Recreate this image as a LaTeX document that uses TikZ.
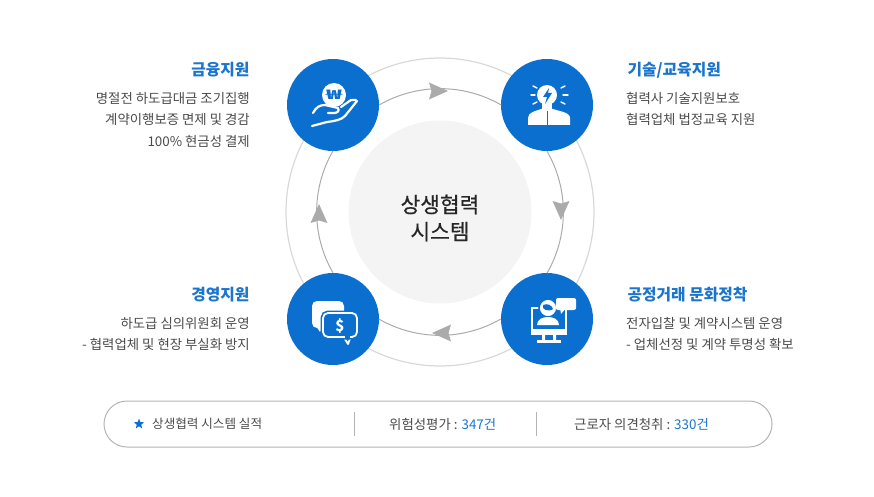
\documentclass[tikz,border=0pt]{standalone}
\usepackage{fontspec}
\usepackage{graphicx}
\setmainfont{Noto Sans CJK KR}
\usetikzlibrary{shapes.geometric}
\definecolor{hubblue}{HTML}{0B6FCF}
\definecolor{titleblue}{HTML}{1C75CC}
\definecolor{bodygray}{HTML}{4A4A4A}
\definecolor{flowgray}{HTML}{ABABAB}
\definecolor{ringgray}{HTML}{D9D9D9}
\definecolor{coregray}{HTML}{F4F4F4}
\definecolor{pillgray}{HTML}{B4B4B4}
\tikzset{
  hub/.style={circle, fill=hubblue, minimum size=92pt, inner sep=0pt},
  title left/.style={anchor=east, font=\fontsize{15.8}{18}\selectfont\bfseries, text=titleblue},
  title right/.style={anchor=west, font=\fontsize{15.8}{18}\selectfont\bfseries, text=titleblue},
  body left/.style={anchor=north east, align=right, inner sep=0pt, font=\fontsize{13.4}{21.6}\selectfont, text=bodygray},
  body right/.style={anchor=north west, align=left, inner sep=0pt, font=\fontsize{13.4}{21.6}\selectfont, text=bodygray},
  pill text/.style={anchor=west, inner sep=0pt, font=\fontsize{12.6}{15}\selectfont, text=bodygray},
  pill value/.style={anchor=west, inner sep=0pt, font=\fontsize{13.4}{15}\selectfont, text=bodygray},
  flow/.style={flowgray, line width=1pt},
  icon line/.style={white, line width=2.2pt, line cap=round, line join=round},
}
\begin{document}
\begin{tikzpicture}[x=1pt, y=1pt]
\useasboundingbox (0,-497) rectangle (874,0);

% rings and centre
\node [circle, draw=ringgray, line width=1.2pt, minimum size=308pt] (ring) at (440,-212) {};
\node [circle, fill=coregray, minimum size=183pt, inner sep=0pt] (core) at (440,-212) {};
\node [align=center, inner sep=0pt, font=\fontsize{21.4}{27}\selectfont\addfontfeature{FakeBold=0.4}, text=black!85] (core-label) at (440,-218) {상생협력\\시스템};

% hubs
\foreach \m/\x/\y in {finance/333/105, tech/547/105, process/547/319, manage/333/319}
  \node [hub] (\m) at (\x,-\y) {};

% flow arcs
\foreach \a/\s in {finance.east/120, tech.south/30, process.west/-60, manage.north/-150}
  \draw [flow] (\a) arc [start angle=\s, delta angle=-60, radius=122];

% arrow heads on the arcs
\foreach \r in {0,-90,-180,-270}
  \fill [flowgray, rotate around={\r:(core.center)}] (448,-91) -- (429,-82.5) -- (431.5,-91) -- (429,-99.5) -- cycle;

% texts left
\node [title left] (finance-title) at (253,-70) {금융지원};
\node [body left] (finance-body) at (250,-92) {명절전 하도급대금 조기집행\\계약이행보증 면제 및 경감\\100\% 현금성 결제};
\node [title left] (manage-title) at (253,-295) {경영지원};
\node [body left] (manage-body) at (250,-317) {하도급 심의위원회 운영\\- 협력업체 및 현장 부실화 방지};

% texts right
\node [title right] (tech-title) at (624,-70) {기술/교육지원};
\node [body right] (tech-body) at (626,-92) {협력사 기술지원보호\\협력업체 법정교육 지원};
\node [title right] (process-title) at (624,-295) {공정거래 문화정착};
\node [body right] (process-body) at (626,-317) {전자입찰 및 계약시스템 운영\\- 업체선정 및 계약 투명성 확보};

% icon: hand and coin
\node [circle, fill=white, minimum size=24pt, inner sep=0pt, text=hubblue,
  font=\fontsize{13}{13}\selectfont\bfseries] (coin) at (334,-95) {\scalebox{2}[1]{₩}};
\draw [icon line] (312,-126) -- (327,-122) .. controls (335,-121) and (341,-120) .. (345,-116) -- (357,-101);
\draw [icon line] (313,-113) .. controls (316,-107) and (320,-105) .. (325,-105)
  -- (338,-108) .. controls (340,-111) and (337,-113) .. (334,-113) -- (328,-113);
\draw [icon line] (341,-107) -- (351,-100) -- (356,-100);

% icon: bulb and person
\fill [white] (528,-125) -- (528,-118) .. controls (528,-112) and (536,-111) .. (541,-109)
  -- (553,-109) .. controls (558,-111) and (570,-112) .. (570,-118) -- (570,-125) -- cycle;
\node [circle, fill=white, minimum size=20pt, inner sep=0pt] (bulb) at (547,-95) {};
\fill [white] (542,-100) rectangle (552,-110);
\fill [hubblue] (549,-88) -- (543,-97) -- (547,-97) -- (545,-104) -- (552,-93) -- (548,-93) -- cycle;
\draw [hubblue, line width=1pt] (547,-111) -- (547,-125);
\foreach \xa/\ya/\xb/\yb in {533/86/537/88, 531/95/535/95, 533/104/537/102, 565/86/561/88, 568/95/563/95, 565/104/561/102}
  \draw [icon line, line width=1.4pt] (\xa,-\ya) -- (\xb,-\yb);

% icon: speech bubbles
\fill [white, rounded corners=5pt] (312,-301) rectangle (344,-328);
\fill [white] (316,-326) -- (320,-332) -- (323,-326) -- cycle;
\draw [white, line width=1.8pt, line join=round, fill=hubblue] (343,-336) -- (348,-344) -- (351,-336) -- cycle;
\draw [white, line width=1.8pt, fill=hubblue, rounded corners=5pt, preaction={draw=hubblue, line width=5pt}]
  (323,-313) rectangle (357,-337);
\fill [hubblue] (344.5,-336) rectangle (350,-338.5);
\node [text=white, inner sep=0pt, font=\fontsize{15}{15}\selectfont\bfseries] (dollar) at (340,-326) {\$};

% icon: monitor and person
\draw [white, line width=2.4pt] (532,-308) rectangle (566,-333);
\fill [white] (531,-329) rectangle (567,-334.5);
\fill [white] (542,-334) rectangle (545,-341) (553,-334) rectangle (556,-341);
\fill [white] (537,-340) rectangle (561,-342.5);
\node [circle, fill=white, draw=hubblue, line width=1.6pt, minimum size=18pt, inner sep=0pt] (head) at (548,-308) {};
\fill [hubblue] (543,-305) .. controls (547,-303) and (552,-305) .. (553,-309)
  .. controls (552,-311) and (545,-311) .. (543,-308) -- cycle;
\fill [white] (537,-325) .. controls (537,-319) and (543,-317) .. (548,-317)
  .. controls (553,-317) and (559,-319) .. (559,-325) -- cycle;
\fill [white, rounded corners=2pt] (556,-298) rectangle (576,-310);
\fill [white] (560,-308) -- (561,-314) -- (566,-308) -- cycle;

% bottom bar
\node [draw=pillgray, line width=1pt, rounded corners=23pt, minimum width=668pt, minimum height=46pt, inner sep=0pt] (bar) at (438,-424) {};
\node [star, star points=5, star point ratio=2.4, fill=hubblue, minimum size=11pt, inner sep=0pt] (bar-star) at (139,-424) {};
\node [pill text] (bar-title) at (152,-424) {상생협력 시스템 실적};
\node [pill value] (bar-risk) at (389,-424) {위험성평가 : \textcolor{titleblue}{347건}};
\node [pill value] (bar-voice) at (574,-424) {근로자 의견청취 : \textcolor{titleblue}{330건}};
\coordinate (bar-a) at (354,-412);
\coordinate (bar-b) at (354,-436);
\coordinate (bar-c) at (536,-412);
\coordinate (bar-d) at (536,-436);
\draw [pillgray] (bar-a) -- (bar-b);
\draw [pillgray] (bar-c) -- (bar-d);

\end{tikzpicture}
\end{document}
